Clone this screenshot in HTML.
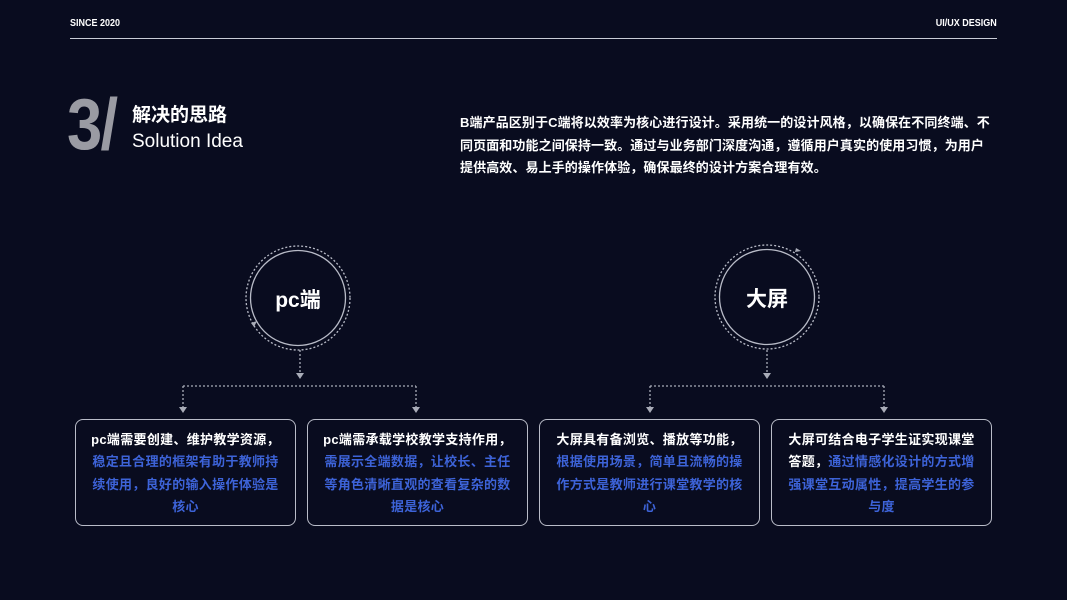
<!DOCTYPE html>
<html><head><meta charset="utf-8"><style>
*{margin:0;padding:0;box-sizing:border-box}
body{width:1067px;height:600px;background:#090c1f;position:relative;overflow:hidden;font-family:"Liberation Sans","Noto Sans CJK SC",sans-serif;color:#fff}
.abs{position:absolute;white-space:nowrap}
.box{position:absolute;top:419px;width:221px;height:107px;border:1.5px solid #b9bcc8;border-radius:8px;text-align:center;font-size:13px;font-weight:bold;line-height:22.3px;padding-top:9px;letter-spacing:0.3px}
.b{color:#3d63d8}
</style></head><body>
<div class="abs" style="left:70px;top:18px;font-size:10px;font-weight:bold;transform:scaleX(0.9);transform-origin:left">SINCE 2020</div>
<div class="abs" style="right:70px;top:18px;font-size:10px;font-weight:bold;transform:scaleX(0.9);transform-origin:right">UI/UX DESIGN</div>
<div class="abs" style="left:70px;top:38px;width:927px;height:1px;background:#c9ccd6"></div>
<div class="abs" style="left:67px;top:84px;font-size:72px;font-weight:bold;color:#9a9ba3;font-family:'Liberation Sans Narrow','Liberation Sans',sans-serif;transform:scaleX(0.88);transform-origin:left;letter-spacing:-2px">3/</div>
<div class="abs" style="left:132px;top:100px;font-size:19px;font-weight:bold">解决的思路</div>
<div class="abs" style="left:132px;top:131px;font-size:19px">Solution Idea</div>
<div class="abs" style="left:460px;top:112px;font-size:13px;font-weight:bold;line-height:22.5px;letter-spacing:0.1px">B端产品区别于C端将以效率为核心进行设计。采用统一的设计风格，以确保在不同终端、不<br>同页面和功能之间保持一致。通过与业务部门深度沟通，遵循用户真实的使用习惯，为用户<br>提供高效、易上手的操作体验，确保最终的设计方案合理有效。</div>
<svg class="abs" style="left:0;top:0" width="1067" height="600">
<g fill="none" stroke="#b9bcc8">
<circle cx="298" cy="298" r="47.5" stroke-width="1.3"/>
<circle cx="298" cy="298" r="52" stroke-width="1.3" stroke-dasharray="2 2"/>
<circle cx="767" cy="297" r="47.5" stroke-width="1.3"/>
<circle cx="767" cy="297" r="52" stroke-width="1.3" stroke-dasharray="2 2"/>
<g stroke="#a9acb8" stroke-width="1.3" stroke-dasharray="2 2">
<path d="M300 350V374M183 386H416M183 386V408M416 386V408"/>
<path d="M767 350V374M650 386H884M650 386V408M884 386V408"/>
</g></g>
<g fill="#a9acb8">
<path d="M296 373h8l-4 6z"/><path d="M179 407h8l-4 6z"/><path d="M412 407h8l-4 6z"/>
<path d="M763 373h8l-4 6z"/><path d="M646 407h8l-4 6z"/><path d="M880 407h8l-4 6z"/>
<path d="M251 323l6-2-3 6z"/><path d="M796 248l5 3-6 1z"/>
</g>
</svg>
<div class="abs" style="left:268px;top:284px;width:60px;text-align:center;font-size:21px;font-weight:bold">pc端</div>
<div class="abs" style="left:737px;top:283px;width:60px;text-align:center;font-size:21px;font-weight:bold">大屏</div>
<div class="box" style="left:75px">pc端需要创建、维护教学资源，<br><span class="b">稳定且合理的框架有助于教师持<br>续使用，良好的输入操作体验是<br>核心</span></div>
<div class="box" style="left:307px">pc端需承载学校教学支持作用，<br><span class="b">需展示全端数据，让校长、主任<br>等角色清晰直观的查看复杂的数<br>据是核心</span></div>
<div class="box" style="left:539px">大屏具有备浏览、播放等功能，<br><span class="b">根据使用场景，简单且流畅的操<br>作方式是教师进行课堂教学的核<br>心</span></div>
<div class="box" style="left:771px">大屏可结合电子学生证实现课堂<br>答题，<span class="b">通过情感化设计的方式增<br>强课堂互动属性，提高学生的参<br>与度</span></div>
</body></html>
